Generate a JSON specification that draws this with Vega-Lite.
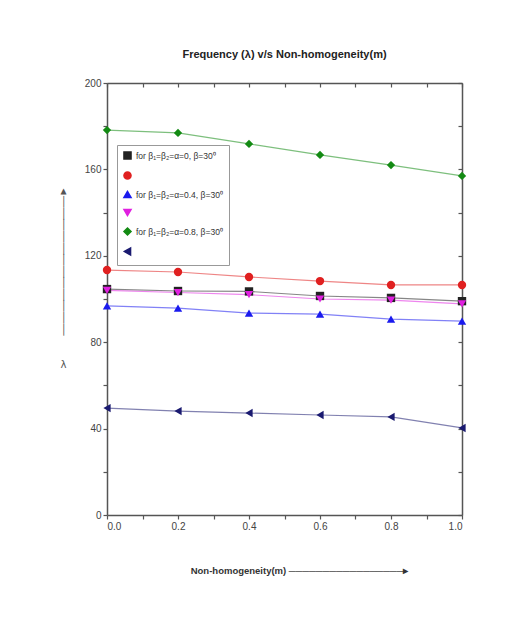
{
  "$schema": "https://vega.github.io/schema/vega-lite/v6.json",
  "width": 355,
  "height": 432,
  "autosize": {"type": "none"},
  "padding": {"left": 107, "top": 83, "right": 66, "bottom": 102},
  "background": "white",
  "title": {
    "text": "Frequency (λ) v/s Non-homogeneity(m)",
    "font": "Liberation Sans",
    "fontSize": 11,
    "fontWeight": "bold",
    "color": "#222",
    "offset": 18
  },
  "config": {
    "view": {"stroke": null},
    "axis": {
      "labelFont": "Liberation Sans",
      "labelFontSize": 10,
      "labelColor": "#444",
      "domainColor": "#555",
      "tickColor": "#555",
      "grid": false,
      "domainWidth": 1.5,
      "tickWidth": 1.2
    },
    "legend": {"symbolOpacity": 1}
  },
  "data": {
    "values": [
      {"series": "s1", "m": 0.0, "lambda": 104.6},
      {"series": "s1", "m": 0.2, "lambda": 103.7},
      {"series": "s1", "m": 0.4, "lambda": 103.5},
      {"series": "s1", "m": 0.6, "lambda": 101.4},
      {"series": "s1", "m": 0.8, "lambda": 100.5},
      {"series": "s1", "m": 1.0, "lambda": 99.0},
      {"series": "s2", "m": 0.0, "lambda": 113.4},
      {"series": "s2", "m": 0.2, "lambda": 112.5},
      {"series": "s2", "m": 0.4, "lambda": 110.2},
      {"series": "s2", "m": 0.6, "lambda": 108.3},
      {"series": "s2", "m": 0.8, "lambda": 106.5},
      {"series": "s2", "m": 1.0, "lambda": 106.5},
      {"series": "s3", "m": 0.0, "lambda": 96.8},
      {"series": "s3", "m": 0.2, "lambda": 95.8},
      {"series": "s3", "m": 0.4, "lambda": 93.5},
      {"series": "s3", "m": 0.6, "lambda": 93.0},
      {"series": "s3", "m": 0.8, "lambda": 90.7},
      {"series": "s3", "m": 1.0, "lambda": 89.8},
      {"series": "s4", "m": 0.0, "lambda": 104.0},
      {"series": "s4", "m": 0.2, "lambda": 103.0},
      {"series": "s4", "m": 0.4, "lambda": 102.0},
      {"series": "s4", "m": 0.6, "lambda": 100.0},
      {"series": "s4", "m": 0.8, "lambda": 99.5},
      {"series": "s4", "m": 1.0, "lambda": 97.7},
      {"series": "s5", "m": 0.0, "lambda": 178.2},
      {"series": "s5", "m": 0.2, "lambda": 176.9},
      {"series": "s5", "m": 0.4, "lambda": 171.8},
      {"series": "s5", "m": 0.6, "lambda": 166.7},
      {"series": "s5", "m": 0.8, "lambda": 162.0},
      {"series": "s5", "m": 1.0, "lambda": 157.0},
      {"series": "s6", "m": 0.0, "lambda": 49.5},
      {"series": "s6", "m": 0.2, "lambda": 48.1},
      {"series": "s6", "m": 0.4, "lambda": 47.2},
      {"series": "s6", "m": 0.6, "lambda": 46.3},
      {"series": "s6", "m": 0.8, "lambda": 45.4},
      {"series": "s6", "m": 1.0, "lambda": 40.3}
    ]
  },
  "resolve": {"axis": {"x": "independent", "y": "independent"}},
  "layer": [
    {
      "mark": {"type": "line", "strokeWidth": 1.2, "opacity": 0.55},
      "encoding": {
        "x": {
          "field": "m", "type": "quantitative",
          "scale": {"domain": [0, 1], "nice": false, "zero": false},
          "axis": {
            "values": [0, 0.1, 0.2, 0.3, 0.4, 0.5, 0.6, 0.7, 0.8, 0.9, 1.0],
            "labelExpr": "round(datum.value*10)%2==0 ? format(datum.value, '.1f') : ''",
            "tickSize": 4,
            "labelPadding": 2,
            "title": "Non-homogeneity(m)      ─────────────────▸",
            "titleFont": "Liberation Sans",
            "titleFontSize": 9.5,
            "titleFontWeight": "bold",
            "titleColor": "#333",
            "titleX": 192,
            "titleY": 50,
            "titleAlign": "center"
          }
        },
        "y": {
          "field": "lambda", "type": "quantitative",
          "scale": {"domain": [0, 200], "nice": false},
          "axis": {
            "values": [0, 20, 40, 60, 80, 100, 120, 140, 160, 180, 200],
            "labelExpr": "round(datum.value/20)%2==0 ? format(datum.value, 'd') : ''",
            "tickSize": 4,
            "labelPadding": 2,
            "title": ["▲", "│", "│", "│", "│", "│", "│", "│", "│", "│", "│", "│", "│", "\u200b", "\u200b", "λ"],
            "titleFont": "DejaVu Sans Mono",
            "titleFontSize": 10,
            "titleFontWeight": "normal",
            "titleLineHeight": 11.6,
            "titleColor": "#555",
            "titleAngle": 0,
            "titleAlign": "center",
            "titleBaseline": "top",
            "titleX": -44,
            "titleY": 102
          }
        },
        "color": {"field": "series", "type": "nominal",
          "scale": {"domain": ["s1", "s2", "s3", "s4", "s5", "s6"],
                    "range": ["#222222", "#e02020", "#1a1aee", "#e020e0", "#138a13", "#1a1a70"]}}
      }
    },
    {
      "mark": {"type": "point", "filled": true, "size": 70, "opacity": 1},
      "encoding": {
        "x": {"field": "m", "type": "quantitative", "axis": null},
        "y": {"field": "lambda", "type": "quantitative", "axis": null},
        "color": {"field": "series", "type": "nominal",
          "scale": {"domain": ["s1", "s2", "s3", "s4", "s5", "s6"],
                    "range": ["#222222", "#e02020", "#1a1aee", "#e020e0", "#138a13", "#1a1a70"]},
          "legend": {
            "orient": "none", "legendX": 10, "legendY": 62,
            "title": null,
            "strokeColor": "#999",
            "padding": 6,
            "rowPadding": 5,
            "symbolSize": 50,
            "symbolOpacity": 1,
            "labelFont": "Liberation Sans",
            "labelFontSize": 8.5,
            "labelColor": "#333",
            "labelExpr": "datum.value=='s1' ? 'for β₁=β₂=α=0, β=30⁰' : datum.value=='s3' ? 'for β₁=β₂=α=0.4, β=30⁰' : datum.value=='s5' ? 'for β₁=β₂=α=0.8, β=30⁰' : '          '"
          }},
        "shape": {"field": "series", "type": "nominal",
          "scale": {"domain": ["s1", "s2", "s3", "s4", "s5", "s6"],
                    "range": ["square", "circle", "triangle-up", "triangle-down", "diamond", "triangle-left"]},
          "legend": {
            "orient": "none", "legendX": 10, "legendY": 62,
            "title": null,
            "strokeColor": "#999",
            "padding": 6,
            "rowPadding": 5,
            "symbolSize": 50,
            "symbolOpacity": 1,
            "labelFont": "Liberation Sans",
            "labelFontSize": 8.5,
            "labelColor": "#333",
            "labelExpr": "datum.value=='s1' ? 'for β₁=β₂=α=0, β=30⁰' : datum.value=='s3' ? 'for β₁=β₂=α=0.4, β=30⁰' : datum.value=='s5' ? 'for β₁=β₂=α=0.8, β=30⁰' : '          '"
          }}
      }
    },
    {
      "mark": {"type": "point", "opacity": 0},
      "encoding": {
        "x": {"field": "m", "type": "quantitative",
          "axis": {"orient": "top", "values": [0, 0.1, 0.2, 0.3, 0.4, 0.5, 0.6, 0.7, 0.8, 0.9, 1.0], "labels": false, "title": null, "tickSize": -4}},
        "y": {"field": "lambda", "type": "quantitative",
          "axis": {"orient": "right", "values": [0, 20, 40, 60, 80, 100, 120, 140, 160, 180, 200], "labels": false, "title": null, "tickSize": -4}}
      }
    }
  ]
}
